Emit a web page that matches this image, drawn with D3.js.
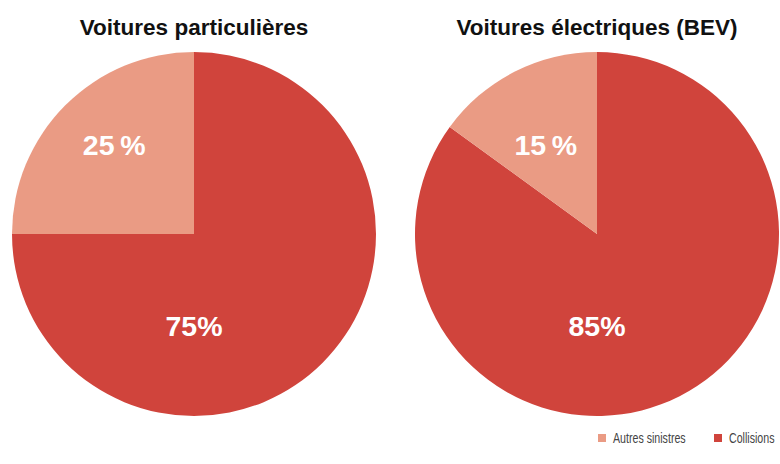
<!DOCTYPE html>
<html><head><meta charset="utf-8">
<script src="https://cdn.jsdelivr.net/npm/d3@7/dist/d3.min.js"></script>
<style>body{margin:0;background:#fff;}svg{display:block;}</style>
</head><body>
<svg id="c" width="780" height="464"></svg>
<script>
const categories = ["Collisions", "Autres sinistres"];
const chartTitles = ["Voitures particulières", "Voitures électriques (BEV)"];
const valuesParticulieres = [75, 25];
const valuesBEV = [85, 15];
const labelsParticulieres = ["75%", "25\u2009%"];
const labelsBEV = ["85%", "15\u2009%"];
const legendOrder = ["Autres sinistres", "Collisions"];
const colors = ["#d0443c", "#ea9b84"];

const svg = d3.select("#c");
const color = d3.scaleOrdinal().domain(categories).range(colors);
const r = 182;
const cy = 234;
const centers = d3.scalePoint().domain([0, 1]).range([194, 597]);
const pie = d3.pie().sort(null).value(d => d.v).startAngle(0);
const arc = d3.arc().innerRadius(0).outerRadius(r);

const datasets = [
  {title: chartTitles[0], values: valuesParticulieres, labels: labelsParticulieres},
  {title: chartTitles[1], values: valuesBEV, labels: labelsBEV}
];

datasets.forEach((ds, i) => {
  const cx = centers(i);
  const g = svg.append("g").attr("transform", `translate(${cx},${cy})`);
  const data = categories.map((c, j) => ({c, v: ds.values[j], label: ds.labels[j]}));
  const arcs = pie(data);
  g.selectAll("path").data(arcs).join("path")
    .attr("d", arc)
    .attr("fill", d => color(d.data.c));
  g.selectAll("text").data(arcs).join("text")
    .attr("transform", d => {
      if (d.data.c === "Collisions") return `translate(0,${r * 0.505})`;
      const a = (d.startAngle + d.endAngle) / 2;
      return `translate(${Math.sin(a) * r * 0.62},${-r * 0.49})`;
    })
    .attr("text-anchor", "middle")
    .attr("dy", "0.36em")
    .attr("fill", "#fff")
    .attr("font-family", "Liberation Sans, Arial, sans-serif")
    .attr("font-weight", "bold")
    .attr("font-size", 28.5)
    .text(d => d.data.label);
  svg.append("text")
    .attr("x", cx).attr("y", 35)
    .attr("text-anchor", "middle")
    .attr("font-family", "Liberation Sans, Arial, sans-serif")
    .attr("font-weight", "bold")
    .attr("font-size", 22.5)
    .attr("fill", "#111")
    .text(ds.title);
});

// legend (condensed look via horizontal scale)
const legend = svg.append("g").attr("font-family", "Liberation Sans, Arial, sans-serif").attr("font-size", 14);
const legX = [598, 714];
const squeeze = 0.76;
legendOrder.forEach((c, i) => {
  legend.append("rect").attr("x", legX[i]).attr("y", 434).attr("width", 8).attr("height", 8).attr("fill", color(c));
  legend.append("text")
    .attr("transform", `translate(${legX[i] + 15},438) scale(${squeeze},1)`)
    .attr("dy", "0.35em").attr("fill", "#444")
    .text(c);
});
</script>
</body></html>
